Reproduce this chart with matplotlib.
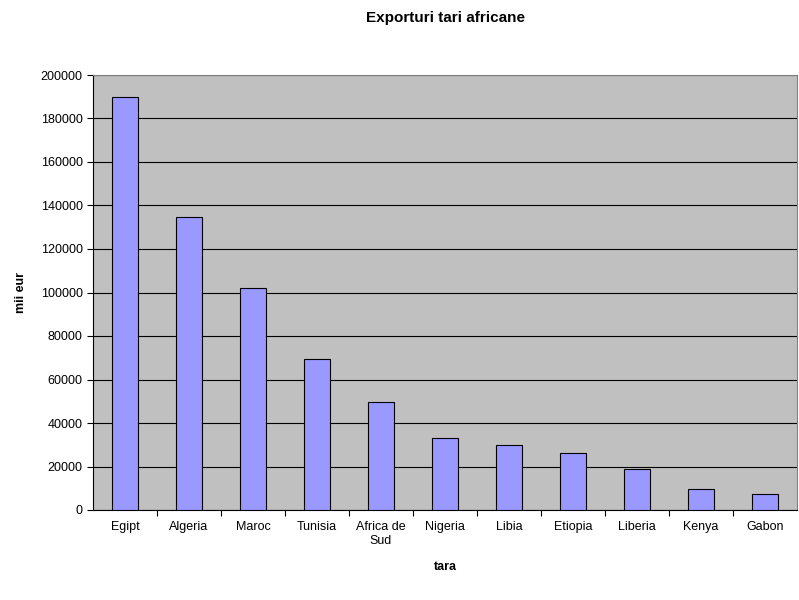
import matplotlib
matplotlib.use("Agg")
import matplotlib.pyplot as plt

categories = ["Egipt", "Algeria", "Maroc", "Tunisia", "Africa de\nSud", "Nigeria",
              "Libia", "Etiopia", "Liberia", "Kenya", "Gabon"]
values = [190000, 134500, 102000, 69300, 49500, 33000, 29900, 26200, 18900, 9700, 7400]
yticks = list(range(0, 200001, 20000))

plt.rcParams['font.family'] = ['Liberation Sans', 'DejaVu Sans']
fig = plt.figure(figsize=(7.99, 6.0), dpi=100)
ax = fig.add_axes([93/799, 90/600, 704/799, 435/600])
ax.set_facecolor("#c0c0c0")
x = range(len(categories))
ax.bar(x, values, width=0.42, color="#9999ff", edgecolor="black", linewidth=0.8, zorder=3)
ax.set_xlim(-0.5, len(categories) - 0.5)
ax.set_ylim(0, 200000)
ax.set_yticks(yticks)
ax.set_yticklabels([str(v) for v in yticks], fontsize=9)
ax.set_xticks([i + 0.5 for i in x][:-1], minor=False)
ax.set_xticklabels([])
ax.set_xticks(list(x), minor=True)
ax.set_xticklabels(categories, minor=True, fontsize=9)
ax.tick_params(axis='x', which='minor', length=0, pad=8)
ax.tick_params(axis='x', which='major', length=4, direction='out')
ax.tick_params(axis='y', length=4, direction='out')
ax.yaxis.grid(True, color="black", linewidth=0.8, zorder=1)
ax.set_axisbelow(True)
for s in ["top", "right"]:
    ax.spines[s].set_color("#808080")
ax.set_title("Exporturi tari africane", fontsize=11, fontweight="bold", pad=38)
ax.set_xlabel("tara", fontsize=9, fontweight="bold", labelpad=10)
ax.set_ylabel("mii eur", fontsize=9, fontweight="bold", labelpad=10)
fig.savefig("out.png", dpi=100)
